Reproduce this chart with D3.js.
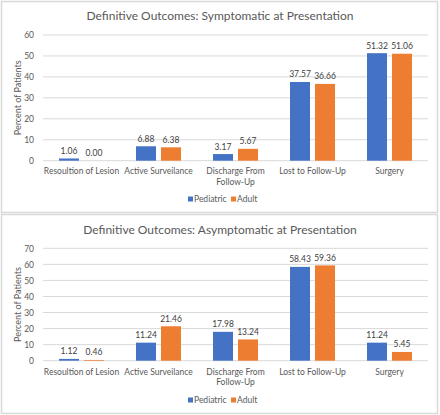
<!DOCTYPE html>
<html><head><meta charset="utf-8">
<script src="https://cdn.jsdelivr.net/npm/d3@7"></script>
<style>
body{margin:0;background:#fff;}
svg{display:block;font-family:Lato,"Open Sans",sans-serif;}
</style></head>
<body><svg id="c" width="440" height="415"></svg>
<script>
const categories = ["Resoultion of Lesion","Active Surveilance","Discharge From Follow-Up","Lost to Follow-Up","Surgery"];
const seriesNames = ["Pediatric","Adult"];
const symPediatric = [1.06, 6.88, 3.17, 37.57, 51.32];
const symAdult = [0.00, 6.38, 5.67, 36.66, 51.06];
const asymPediatric = [1.12, 11.24, 17.98, 58.43, 11.24];
const asymAdult = [0.46, 21.46, 13.24, 59.36, 5.45];
const symTicks = [0,10,20,30,40,50,60];
const asymTicks = [0,10,20,30,40,50,60,70];
const colors = ["#4472C4","#ED7D31"];

const svg = d3.select("#c");

function panel(cfg){
  const g = svg.append("g");
  g.append("rect").attr("x",1.5).attr("y",cfg.top+0.5).attr("width",436).attr("height",cfg.h)
    .attr("fill","#fff").attr("stroke","#d9d9d9").attr("stroke-width",1.5);
  g.append("text").attr("x",220).attr("y",cfg.titleY).attr("text-anchor","middle")
    .attr("font-size",12).attr("fill","#595959").text(cfg.title);
  const x = d3.scaleBand().domain(categories).range([43,428]);
  const y = d3.scaleLinear().domain([0,d3.max(cfg.ticks)]).range([cfg.y0,cfg.yTop]);
  g.selectAll("line.grid").data(cfg.ticks).join("line")
    .attr("x1",43).attr("x2",428).attr("y1",d=>y(d)).attr("y2",d=>y(d))
    .attr("stroke","#d9d9d9").attr("stroke-width",1);
  g.selectAll("text.tick").data(cfg.ticks).join("text")
    .attr("x",34).attr("y",d=>y(d)+3.2).attr("text-anchor","end")
    .attr("font-size",8.5).attr("fill","#595959").text(d=>d);
  g.append("text").attr("transform",`translate(21,${(cfg.y0+cfg.yTop)/2}) rotate(-90)`)
    .attr("text-anchor","middle").attr("font-size",9).attr("fill","#595959").text("Percent of Patients");
  const inner = d3.scaleBand().domain(seriesNames).range([-22.5,22.5]).paddingInner(0.2);
  const data = [];
  categories.forEach((c,i)=>{
    cfg.series.forEach((s,j)=>data.push({c, s:seriesNames[j], v:s[i], col:colors[j]}));
  });
  const cx = c => x(c)+x.bandwidth()/2;
  g.selectAll("rect.bar").data(data).join("rect")
    .attr("x",d=>cx(d.c)+inner(d.s)).attr("width",inner.bandwidth())
    .attr("y",d=>y(d.v)).attr("height",d=>y(0)-y(d.v)).attr("fill",d=>d.col);
  g.selectAll("text.lbl").data(data).join("text")
    .attr("x",d=>cx(d.c)+inner(d.s)+inner.bandwidth()/2).attr("y",d=>y(d.v)-4.5)
    .attr("text-anchor","middle").attr("font-size",8.5).attr("fill","#404040")
    .text(d=>d.v.toFixed(2));
  categories.forEach(c=>{
    const t = g.append("text").attr("x",cx(c)).attr("y",cfg.catY).attr("text-anchor","middle")
      .attr("font-size",8.5).attr("fill","#595959");
    const words = c.split(" ");
    let line = [];
    let ts = t.append("tspan").attr("x",cx(c)).attr("dy",0);
    words.forEach(w=>{
      line.push(w);
      ts.text(line.join(" "));
      if(ts.node().getComputedTextLength() > 82 && line.length>1){
        line.pop(); ts.text(line.join(" "));
        line=[w];
        ts = t.append("tspan").attr("x",cx(c)).attr("dy",10.5).text(w);
      }
    });
  });
  const lg = g.append("g").attr("transform",`translate(0,${cfg.legY})`);
  const items = [{n:"Pediatric",x:188,c:colors[0]},{n:"Adult",x:231,c:colors[1]}];
  items.forEach(it=>{
    lg.append("rect").attr("x",it.x).attr("y",-5.5).attr("width",5).attr("height",5).attr("fill",it.c);
    lg.append("text").attr("x",it.x+6).attr("y",0).attr("font-size",8.5).attr("fill","#595959").text(it.n);
  });
}

panel({top:1, h:211, title:"Definitive Outcomes: Symptomatic at Presentation", titleY:20,
  ticks:symTicks, y0:160.7, yTop:35, catY:174, legY:202, series:[symPediatric,symAdult]});
panel({top:214, h:199, title:"Definitive Outcomes: Asymptomatic at Presentation", titleY:234,
  ticks:asymTicks, y0:360.7, yTop:248.3, catY:374.5, legY:403, series:[asymPediatric,asymAdult]});
</script></body></html>
